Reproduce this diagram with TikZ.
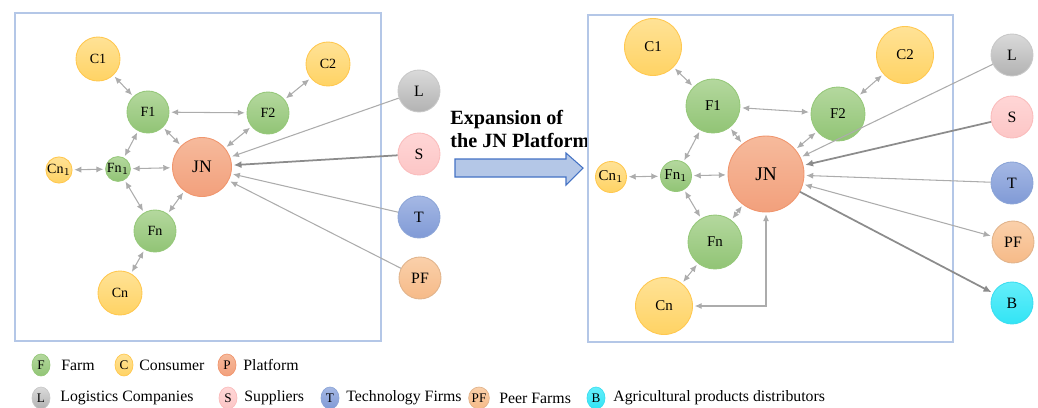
\documentclass[tikz,border=0pt]{standalone}
\usepackage{fontspec}
\setmainfont{Liberation Serif}
\usetikzlibrary{arrows.meta,shapes.geometric}
\definecolor{boxc}{RGB}{180,199,231}
\definecolor{edgec}{RGB}{172,172,172}
\definecolor{edged}{RGB}{140,140,140}
\definecolor{gT}{RGB}{180,216,158}\definecolor{gB}{RGB}{145,196,117}\definecolor{gD}{RGB}{150,200,122}
\definecolor{yT}{RGB}{255,226,150}\definecolor{yB}{RGB}{255,211,100}\definecolor{yD}{RGB}{255,200,80}
\definecolor{jT}{RGB}{246,186,156}\definecolor{jB}{RGB}{242,160,124}\definecolor{jD}{RGB}{240,150,110}
\definecolor{lT}{RGB}{218,218,218}\definecolor{lB}{RGB}{178,178,178}\definecolor{lD}{RGB}{200,200,200}
\definecolor{sT}{RGB}{255,214,214}\definecolor{sB}{RGB}{252,198,198}\definecolor{sD}{RGB}{250,188,188}
\definecolor{tT}{RGB}{165,184,228}\definecolor{tB}{RGB}{128,154,214}\definecolor{tD}{RGB}{140,165,215}
\definecolor{pT}{RGB}{250,208,170}\definecolor{pB}{RGB}{246,186,136}\definecolor{pD}{RGB}{225,180,140}
\definecolor{bT}{RGB}{100,238,250}\definecolor{bB}{RGB}{50,228,245}\definecolor{bD}{RGB}{60,222,240}
\definecolor{arrF}{RGB}{180,199,231}\definecolor{arrD}{RGB}{68,114,196}
\tikzset{
  nd/.style={circle,inner sep=0pt,line width=0.5pt},
  gn/.style={nd,top color=gT,bottom color=gB,draw=gD},
  yn/.style={nd,top color=yT,bottom color=yB,draw=yD},
  jn/.style={nd,top color=jT,bottom color=jB,draw=jD},
  ln/.style={nd,top color=lT,bottom color=lB,draw=lD},
  sn/.style={nd,top color=sT,bottom color=sB,draw=sD},
  tn/.style={nd,top color=tT,bottom color=tB,draw=tD},
  pn/.style={nd,top color=pT,bottom color=pB,draw=pD},
  bn/.style={nd,top color=bT,bottom color=bB,draw=bD},
  panel/.style={draw=boxc,line width=0.8pt},
  lk/.style={draw=edgec,line width=0.6pt,{Latex[length=4pt,width=3.5pt]}-{Latex[length=4pt,width=3.5pt]},shorten <=1pt,shorten >=1pt},
  in1/.style={draw=edgec,line width=0.6pt,-{Latex[length=4pt,width=3.5pt]},shorten >=1pt},
  in2/.style={draw=edged,line width=1pt,-{Latex[length=4.5pt,width=4pt]},shorten >=1pt},
  lg/.style={ellipse,inner sep=0pt,minimum width=0.36cm,minimum height=0.44cm,line width=0.4pt,font=\fontsize{7.5}{8}\selectfont},
  lt/.style={anchor=west,inner sep=0pt,font=\fontsize{9}{11}\selectfont},
}
\begin{document}
\begin{tikzpicture}[x=0.02cm,y=-0.02cm]
\useasboundingbox (0,0) rectangle (1038,407);
% ---------- left panel ----------
\draw[panel] (15,13) rectangle (381,341);
\begin{scope}[font=\fontsize{8}{9}\selectfont]
\node[yn,minimum size=0.88cm] (aC1) at (98,59) {C1};
\node[yn,minimum size=0.88cm] (aC2) at (328,64) {C2};
\node[gn,minimum size=0.84cm] (aF1) at (148,112) {F1};
\node[gn,minimum size=0.84cm] (aF2) at (268,113) {F2};
\node[jn,minimum size=1.18cm,font=\fontsize{10}{11}\selectfont] (aJN) at (202,167) {JN};
\node[gn,minimum size=0.48cm] (aFn1) at (118,169) {Fn$_1$};
\node[yn,minimum size=0.48cm] (aCn1) at (59,170) {Cn$_1$};
\node[gn,minimum size=0.84cm] (aFn) at (155,231) {Fn};
\node[yn,minimum size=0.88cm] (aCn) at (120,293) {Cn};
\node[ln,minimum size=0.84cm,font=\fontsize{9}{10}\selectfont] (aL) at (419,91) {L};
\node[sn,minimum size=0.84cm,font=\fontsize{9}{10}\selectfont] (aS) at (419,154) {S};
\node[tn,minimum size=0.84cm,font=\fontsize{9}{10}\selectfont] (aT) at (419,217) {T};
\node[pn,minimum size=0.84cm,font=\fontsize{9}{10}\selectfont] (aPF) at (420,278) {PF};
\end{scope}
\draw[lk] (aC1) -- (aF1);
\draw[lk] (aC2) -- (aF2);
\draw[lk] (aF1) -- (aF2);
\draw[lk] (aF1) -- (aJN);
\draw[lk] (aF2) -- (aJN);
\draw[lk] (aF1) -- (aFn1);
\draw[lk] (aFn1) -- (aJN);
\draw[lk] (aCn1) -- (aFn1);
\draw[lk] (aFn1) -- (aFn);
\draw[lk] (aFn) -- (aJN);
\draw[lk] (aCn) -- (aFn);
\draw[in1] (aL) -- (aJN);
\draw[in2] (aS) -- (aJN);
\draw[in1] (aT) -- (aJN);
\draw[in1] (aPF) -- (aJN);
% ---------- expansion arrow ----------
\node[anchor=west,align=left,inner sep=0pt,font=\bfseries\fontsize{11.5}{13}\selectfont] (exp) at (450,129) {Expansion of\\the JN Platform};
\draw[fill=arrF,draw=arrD,line width=0.6pt] (455,159) -- (566,159) -- (566,153) -- (583,168) -- (566,185) -- (566,177) -- (455,177) -- cycle;
% ---------- right panel ----------
\draw[panel] (588,15) rectangle (953,342);
\begin{scope}[font=\fontsize{8.5}{9}\selectfont]
\node[yn,minimum size=1.14cm] (bC1) at (653,47) {C1};
\node[yn,minimum size=1.14cm] (bC2) at (905,55) {C2};
\node[gn,minimum size=1.08cm] (bF1) at (713,106) {F1};
\node[gn,minimum size=1.08cm] (bF2) at (838,114) {F2};
\node[jn,minimum size=1.52cm,font=\fontsize{11}{12}\selectfont] (bJN) at (766,174) {JN};
\node[gn,minimum size=0.62cm] (bFn1) at (676,176) {Fn$_1$};
\node[yn,minimum size=0.62cm] (bCn1) at (611,177) {Cn$_1$};
\node[gn,minimum size=1.08cm] (bFn) at (715,242) {Fn};
\node[yn,minimum size=1.14cm] (bCn) at (664,306) {Cn};
\node[ln,minimum size=0.84cm,font=\fontsize{9}{10}\selectfont] (bL) at (1012,55) {L};
\node[sn,minimum size=0.84cm,font=\fontsize{9}{10}\selectfont] (bS) at (1012,117) {S};
\node[tn,minimum size=0.84cm,font=\fontsize{9}{10}\selectfont] (bT) at (1012,183) {T};
\node[pn,minimum size=0.84cm,font=\fontsize{9}{10}\selectfont] (bPF) at (1013,242) {PF};
\node[bn,minimum size=0.84cm,font=\fontsize{9}{10}\selectfont] (bB) at (1012,303) {B};
\end{scope}
\draw[lk] (bC1) -- (bF1);
\draw[lk] (bC2) -- (bF2);
\draw[lk] (bF1) -- (bF2);
\draw[lk] (bF1) -- (bJN);
\draw[lk] (bF2) -- (bJN);
\draw[lk] (bF1) -- (bFn1);
\draw[lk] (bFn1) -- (bJN);
\draw[lk] (bCn1) -- (bFn1);
\draw[lk] (bFn1) -- (bFn);
\draw[lk] (bFn) -- (bJN);
\draw[lk] (bCn) -- (bFn);
\draw[lk] (bCn) -| (bJN);
\draw[in1] (bL) -- (bJN);
\draw[in2] (bS) -- (bJN);
\draw[in1] (bT) -- (bJN);
\draw[lk] (bPF) -- (bJN);
\draw[in2] (bJN) -- (bB);
% ---------- legend ----------
\node[lg,top color=gT,bottom color=gB,draw=gD] (kF) at (41,365) {F};
\node[lt] (tF) at (61,365) {Farm};
\node[lg,top color=yT,bottom color=yB,draw=yD] (kC) at (124,365) {C};
\node[lt] (tC) at (139,365) {Consumer};
\node[lg,top color=jT,bottom color=jB,draw=jD] (kP) at (227,365) {P};
\node[lt] (tP) at (243,365) {Platform};
\node[lg,top color=lT,bottom color=lB,draw=lD] (kL) at (41,398) {L};
\node[lt] (tL) at (60,398) {Logistics Companies};
\node[lg,top color=sT,bottom color=sB,draw=sD] (kS) at (228,398) {S};
\node[lt] (tS) at (244,398) {Suppliers};
\node[lg,top color=tT,bottom color=tB,draw=tD] (kT) at (330,398) {T};
\node[lt] (tT) at (346,398) {Technology Firms};
\node[lg,top color=pT,bottom color=pB,draw=pD] (kPF) at (479,398) {PF};
\node[lt] (tPF) at (499,398) {Peer Farms};
\node[lg,top color=bT,bottom color=bB,draw=bD] (kB) at (596,398) {B};
\node[lt] (tB) at (613,398) {Agricultural products distributors};
\end{tikzpicture}
\end{document}
